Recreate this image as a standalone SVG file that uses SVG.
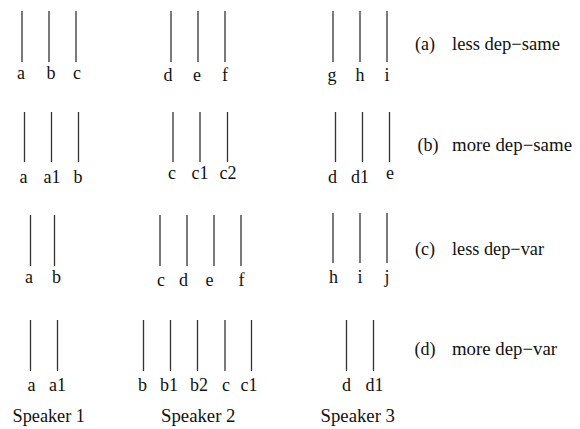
<svg xmlns="http://www.w3.org/2000/svg" width="580" height="429" viewBox="0 0 580 429">
<style>
.ln{stroke:#333;stroke-width:1.3;fill:none}
.lb{font-family:"Liberation Serif","Times New Roman",serif;font-size:18px;fill:#111;text-anchor:middle}
.cap{font-family:"Liberation Serif","Times New Roman",serif;font-size:18px;fill:#111}
.spk{font-family:"Liberation Serif","Times New Roman",serif;font-size:19px;fill:#111}
</style>
<rect width="580" height="429" fill="#fff"/>
<g id="connectors">
<path class="ln" d="M22,11V62M49,11V62M76,11V62M171,11V62M198,11V62M225,11V62M333,11V62M360,11V62M387,11V62"/>
<path class="ln" d="M24.5,112V162M51.5,112V162M78.5,112V162M173,112V162M200,112V162M227.5,112V162M335.5,112V162M362.5,112V162M389.5,112V162"/>
<path class="ln" d="M30.5,215V266M54.5,215V266M160,215V266M187,215V266M214,215V266M241,215V266M333,213V263M360,213V263M387,213V263"/>
<path class="ln" d="M30.5,320V371M57.5,320V371M143.5,320V371M170.5,320V371M197.5,320V371M225,320V371M251.5,320V371M346.5,320V371M373.5,320V371"/>
</g>
<g id="row-a">
<text class="lb" x="21" y="79">a</text>
<text class="lb" x="51" y="79">b</text>
<text class="lb" x="77" y="79">c</text>
<text class="lb" x="168" y="81">d</text>
<text class="lb" x="197" y="81">e</text>
<text class="lb" x="225" y="81">f</text>
<text class="lb" x="332" y="81">g</text>
<text class="lb" x="360" y="81">h</text>
<text class="lb" x="387" y="81">i</text>
<text class="cap" x="415" y="50">(a)</text>
<text class="cap" x="452" y="50" textLength="108" lengthAdjust="spacingAndGlyphs">less dep−same</text>
</g>
<g id="row-b">
<text class="lb" x="23.5" y="183">a</text>
<text class="lb" x="52" y="183">a1</text>
<text class="lb" x="78" y="183">b</text>
<text class="lb" x="172" y="179">c</text>
<text class="lb" x="200" y="179">c1</text>
<text class="lb" x="228" y="179">c2</text>
<text class="lb" x="332.5" y="182.5">d</text>
<text class="lb" x="360" y="182.5">d1</text>
<text class="lb" x="390" y="179">e</text>
<text class="cap" x="417.5" y="151">(b)</text>
<text class="cap" x="452" y="151" textLength="120" lengthAdjust="spacingAndGlyphs">more dep−same</text>
</g>
<g id="row-c">
<text class="lb" x="29" y="283">a</text>
<text class="lb" x="56.5" y="283">b</text>
<text class="lb" x="161" y="286">c</text>
<text class="lb" x="183.5" y="286">d</text>
<text class="lb" x="209.5" y="286">e</text>
<text class="lb" x="241.5" y="286">f</text>
<text class="lb" x="333.5" y="283">h</text>
<text class="lb" x="360" y="283">i</text>
<text class="lb" x="387" y="283">j</text>
<text class="cap" x="415" y="255">(c)</text>
<text class="cap" x="452" y="255" textLength="92" lengthAdjust="spacingAndGlyphs">less dep−var</text>
</g>
<g id="row-d">
<text class="lb" x="31.5" y="391">a</text>
<text class="lb" x="57.5" y="391">a1</text>
<text class="lb" x="142.5" y="391">b</text>
<text class="lb" x="169" y="391">b1</text>
<text class="lb" x="199" y="391">b2</text>
<text class="lb" x="226" y="391">c</text>
<text class="lb" x="249" y="391">c1</text>
<text class="lb" x="346.5" y="391">d</text>
<text class="lb" x="374.5" y="391">d1</text>
<text class="cap" x="414.5" y="355">(d)</text>
<text class="cap" x="452" y="355" textLength="105" lengthAdjust="spacingAndGlyphs">more dep−var</text>
</g>
<g id="speakers">
<text class="spk" x="12.5" y="422" textLength="72.5" lengthAdjust="spacingAndGlyphs">Speaker 1</text>
<text class="spk" x="161" y="422" textLength="74.5" lengthAdjust="spacingAndGlyphs">Speaker 2</text>
<text class="spk" x="320.5" y="422" textLength="74.5" lengthAdjust="spacingAndGlyphs">Speaker 3</text>
</g>
</svg>
